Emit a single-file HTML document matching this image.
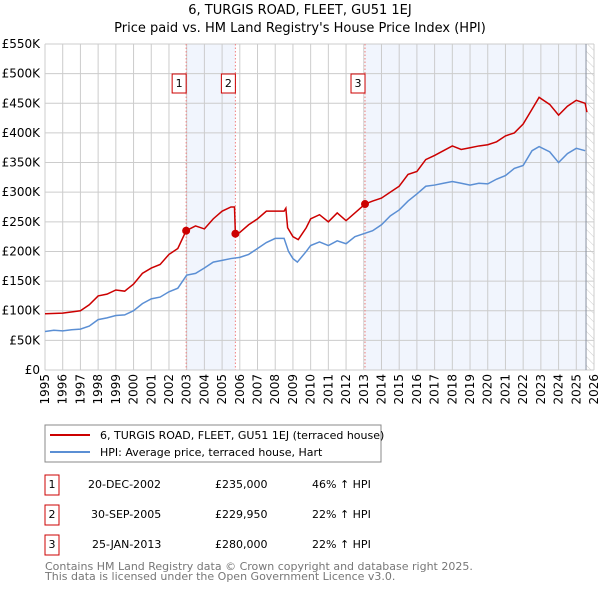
<!DOCTYPE html>
<html><head><meta charset="utf-8"><style>
body{margin:0;background:#fff;font-family:"Liberation Sans","DejaVu Sans",sans-serif;}
svg{display:block}
</style></head><body>
<svg id="c" width="600" height="590" xmlns="http://www.w3.org/2000/svg">
<text x="300" y="14" text-anchor="middle" font-size="13" fill="#000" font-family="DejaVu Sans, sans-serif">6, TURGIS ROAD, FLEET, GU51 1EJ</text>
<text x="300" y="32" text-anchor="middle" font-size="13" fill="#000" font-family="DejaVu Sans, sans-serif">Price paid vs. HM Land Registry's House Price Index (HPI)</text>
<defs><pattern id="hatch" width="6" height="6" patternUnits="userSpaceOnUse" patternTransform="rotate(-45)"><line x1="0" y1="0" x2="0" y2="6" stroke="#ccc" stroke-width="1"/></pattern></defs>
<g id="plot"></g>
<g font-family="DejaVu Sans, sans-serif">
<rect x="45" y="425" width="336" height="37" fill="#fff" stroke="#888"/>
<line x1="50" y1="435" x2="90" y2="435" stroke="#cc0000" stroke-width="2"/>
<text x="100" y="439" font-size="11">6, TURGIS ROAD, FLEET, GU51 1EJ (terraced house)</text>
<line x1="50" y1="452" x2="90" y2="452" stroke="#5b8fd4" stroke-width="2"/>
<text x="100" y="456" font-size="11">HPI: Average price, terraced house, Hart</text>
<g font-size="11">
<rect x="45" y="475" width="14" height="20" fill="#fff" stroke="#c00"/><text x="52" y="488" text-anchor="middle">1</text>
<text x="88" y="488">20-DEC-2002</text><text x="215" y="488">£235,000</text><text x="312" y="488">46% ↑ HPI</text>
<rect x="45" y="505" width="14" height="20" fill="#fff" stroke="#c00"/><text x="52" y="518" text-anchor="middle">2</text>
<text x="91" y="518">30-SEP-2005</text><text x="215" y="518">£229,950</text><text x="312" y="518">22% ↑ HPI</text>
<rect x="45" y="535" width="14" height="20" fill="#fff" stroke="#c00"/><text x="52" y="548" text-anchor="middle">3</text>
<text x="92" y="548">25-JAN-2013</text><text x="215" y="548">£280,000</text><text x="312" y="548">22% ↑ HPI</text>
</g>
<text x="45" y="570" font-size="11" fill="#777">Contains HM Land Registry data © Crown copyright and database right 2025.</text>
<text x="45" y="580" font-size="11" fill="#777">This data is licensed under the Open Government Licence v3.0.</text>
</g>
</svg>
<script>
const yTicks=[0,50,100,150,200,250,300,350,400,450,500,550];
const yTickLabels=["£0","£50K","£100K","£150K","£200K","£250K","£300K","£350K","£400K","£450K","£500K","£550K"];
const years=[1995,1996,1997,1998,1999,2000,2001,2002,2003,2004,2005,2006,2007,2008,2009,2010,2011,2012,2013,2014,2015,2016,2017,2018,2019,2020,2021,2022,2023,2024,2025,2026];
const hpiT=[1995,1995.5,1996,1996.5,1997,1997.5,1998,1998.5,1999,1999.5,2000,2000.5,2001,2001.5,2002,2002.5,2003,2003.5,2004,2004.5,2005,2005.5,2006,2006.5,2007,2007.5,2008,2008.5,2008.75,2009,2009.25,2009.75,2010,2010.5,2011,2011.5,2012,2012.5,2013,2013.5,2014,2014.5,2015,2015.5,2016,2016.5,2017,2017.5,2018,2018.5,2019,2019.5,2020,2020.5,2021,2021.5,2022,2022.5,2022.9,2023.5,2024,2024.5,2025,2025.5];
const hpiV=[65,67,66,68,69,74,85,88,92,93,100,112,120,123,132,138,160,163,172,182,185,188,190,195,205,215,222,222,200,188,182,200,210,216,210,218,213,225,230,235,245,260,270,285,297,310,312,315,318,315,312,315,314,322,328,340,345,370,377,368,350,365,374,370];
const redT=[1995,1996,1997,1997.5,1998,1998.5,1999,1999.5,2000,2000.5,2001,2001.5,2002,2002.5,2002.97,2003.5,2004,2004.5,2005,2005.5,2005.7,2005.75,2006,2006.5,2007,2007.5,2008,2008.5,2008.6,2008.7,2009,2009.3,2009.75,2010,2010.5,2011,2011.5,2012,2012.5,2013.07,2013.5,2014,2014.5,2015,2015.5,2016,2016.5,2017,2017.5,2018,2018.5,2019,2019.5,2020,2020.5,2021,2021.5,2022,2022.5,2022.9,2023.5,2024,2024.5,2025,2025.5,2025.6];
const redV=[95,96,100,110,125,128,135,133,145,163,172,178,195,205,235,243,238,255,268,275,275,230,232,245,255,268,268,268,273,240,225,220,240,255,262,250,265,252,265,280,285,290,300,310,330,335,355,362,370,378,372,375,378,380,385,395,400,415,440,460,448,430,445,455,450,435];
const saleT=[2002.97,2005.75,2013.07];
const saleV=[235,229.95,280];
const saleLabels=["1","2","3"];
const X0=45,X1=594,Y0=370,Y1=44;
const x=t=>X0+(t-1995)/(2026-1995)*(X1-X0);
const y=v=>Y0-v/550*(Y0-Y1);
const NS="http://www.w3.org/2000/svg";
const g=document.getElementById('plot');
function mk(tag,a){const e=document.createElementNS(NS,tag);for(const k in a)e.setAttribute(k,a[k]);g.appendChild(e);return e;}
let e;
e=mk('rect',{x:x(saleT[0]),y:Y1,width:x(saleT[1])-x(saleT[0]),height:Y0-Y1,fill:'#eef3fc',opacity:0.8});


e=mk('rect',{x:x(saleT[2]),y:Y1,width:x(2025.55)-x(saleT[2]),height:Y0-Y1,fill:'#eef3fc',opacity:0.8});


e=mk('rect',{x:x(2025.55),y:Y1,width:X1-x(2025.55),height:Y0-Y1,fill:'url(#hatch)'});


yTicks.forEach((v,i)=>{
 e=mk('line',{x1:X0,x2:X1,y1:y(v),y2:y(v),stroke:'#ccc','stroke-width':1});
 
 
 e=mk('text',{x:40,y:y(v)+4,'text-anchor':'end','font-size':12,'font-family':'DejaVu Sans, sans-serif'});e.textContent=yTickLabels[i];
 
 
});
years.forEach(t=>{
 e=mk('line',{x1:x(t),x2:x(t),y1:Y1,y2:Y0,stroke:'#ccc','stroke-width':1});
 
 
 e=mk('text',{transform:`translate(${x(t)+4},${Y0+4}) rotate(-90)`,'text-anchor':'end','font-size':12,'font-family':'DejaVu Sans, sans-serif'});e.textContent=t;
 
 
});
e=mk('line',{x1:x(2025.55),x2:x(2025.55),y1:Y1,y2:Y0,stroke:'#8890a0','stroke-width':1});


saleT.forEach((t,i)=>{
 e=mk('line',{x1:x(t),x2:x(t),y1:Y1,y2:Y0,stroke:'#f08080','stroke-width':1,'stroke-dasharray':'1.5,2'});
 
 
 e=mk('rect',{x:x(t)-14,y:74,width:14,height:19,fill:'#fff',stroke:'#c00'});
 
 
 e=mk('text',{x:x(t)-7,y:87,'text-anchor':'middle','font-size':11,'font-family':'DejaVu Sans, sans-serif'});e.textContent=saleLabels[i];
 
 
});
e=mk('polyline',{points:hpiT.map((t,i)=>x(t)+','+y(hpiV[i])).join(' '),fill:'none',stroke:'#5b8fd4','stroke-width':1.5});


e=mk('polyline',{points:redT.map((t,i)=>x(t)+','+y(redV[i])).join(' '),fill:'none',stroke:'#cc0000','stroke-width':1.5});


saleT.forEach((t,i)=>{
 e=mk('circle',{cx:x(t),cy:y(saleV[i]),r:4,fill:'#cc0000'});
 
 
});
</script>
</body></html>
